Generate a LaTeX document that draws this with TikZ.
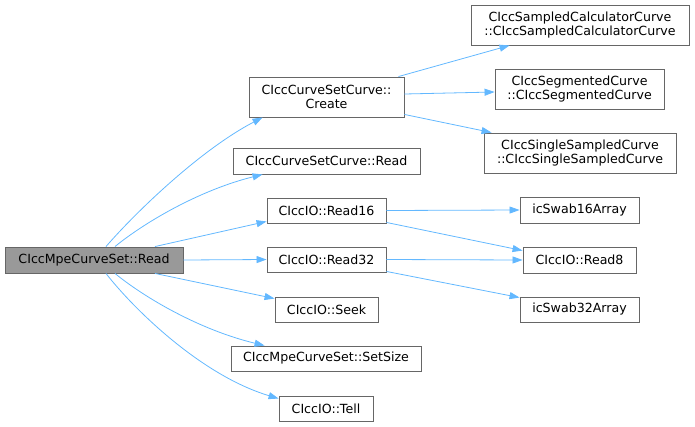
\documentclass[tikz,border=0pt]{standalone}
\usepackage{fontspec}
\setmainfont{DejaVu Sans}
\usetikzlibrary{arrows.meta}
\definecolor{boxline}{HTML}{666666}
\definecolor{mainfill}{HTML}{999999}
\definecolor{edgecol}{HTML}{63B8FF}
\begin{document}
\begin{tikzpicture}[x=1pt,y=-1pt,
  box/.style={draw=boxline,fill=white,line width=0.9pt,inner sep=0pt,align=center,
    font=\fontsize{12.6}{14.5}\selectfont},
  edge/.style={draw=edgecol,line width=0.8pt,-{Triangle[length=10pt,width=7pt]}}]
\useasboundingbox (0,0) rectangle (695,426);
\node[box,fill=mainfill,minimum width=178pt,minimum height=26pt] (main) at (94,260) {CIccMpeCurveSet::Read};
\node[box,minimum width=155pt,minimum height=40pt] (create) at (326.5,97) {CIccCurveSetCurve::\\Create};
\node[box,minimum width=187pt,minimum height=26pt] (cscread) at (326.5,161) {CIccCurveSetCurve::Read};
\node[box,minimum width=119pt,minimum height=25pt] (read16) at (326.5,210.5) {CIccIO::Read16};
\node[box,minimum width=119pt,minimum height=25pt] (read32) at (326.5,259.5) {CIccIO::Read32};
\node[box,minimum width=103pt,minimum height=25pt] (seek) at (326.5,309.5) {CIccIO::Seek};
\node[box,minimum width=190pt,minimum height=25pt] (setsize) at (326,358.5) {CIccMpeCurveSet::SetSize};
\node[box,minimum width=94pt,minimum height=25pt] (tell) at (326,408.5) {CIccIO::Tell};
\node[box,minimum width=218pt,minimum height=40pt] (samp) at (580,25) {CIccSampledCalculatorCurve\\::CIccSampledCalculatorCurve};
\node[box,minimum width=169pt,minimum height=40pt] (seg) at (579.5,89) {CIccSegmentedCurve\\::CIccSegmentedCurve};
\node[box,minimum width=192pt,minimum height=40pt] (single) at (580,153) {CIccSingleSampledCurve\\::CIccSingleSampledCurve};
\node[box,minimum width=119pt,minimum height=26pt] (swab16) at (579.5,210) {icSwab16Array};
\node[box,minimum width=113pt,minimum height=26pt] (read8) at (579.5,260) {CIccIO::Read8};
\node[box,minimum width=119pt,minimum height=25pt] (swab32) at (579.5,309.5) {icSwab32Array};

\draw[edge] ([xshift=12pt]main.north) .. controls (135,213) and (200,150) .. ([xshift=14pt]create.south west);
\draw[edge] ([xshift=21pt]main.north) .. controls (145,222) and (200,190) .. ([xshift=30pt]cscread.south west);
\draw[edge] ([xshift=61pt]main.north) -- ([yshift=2pt]read16.south west);
\draw[edge] (main.east) -- (read32.west);
\draw[edge] ([xshift=61pt]main.south) -- ([yshift=-2pt]seek.north west);
\draw[edge] ([xshift=21pt]main.south) .. controls (145,298) and (200,330) .. ([xshift=34pt]setsize.north west);
\draw[edge] ([xshift=12pt]main.south) .. controls (132,307) and (200,375) .. ([yshift=-3pt]tell.north west);

\draw[edge] ([xshift=-6pt]create.north east) -- ([xshift=39pt]samp.south west);
\draw[edge] ([yshift=3pt]create.east) -- ([yshift=-3pt]seg.west);
\draw[edge] ([yshift=3pt]create.south east) -- ([xshift=8pt]single.north west);

\draw[edge] (read16.east) -- (swab16.west);
\draw[edge] ([yshift=1pt]read16.south east) -- ([yshift=-4pt]read8.north west);
\draw[edge] (read32.east) -- (read8.west);
\draw[edge] ([yshift=1pt]read32.south east) -- ([yshift=-1pt]swab32.north west);
\end{tikzpicture}
\end{document}
